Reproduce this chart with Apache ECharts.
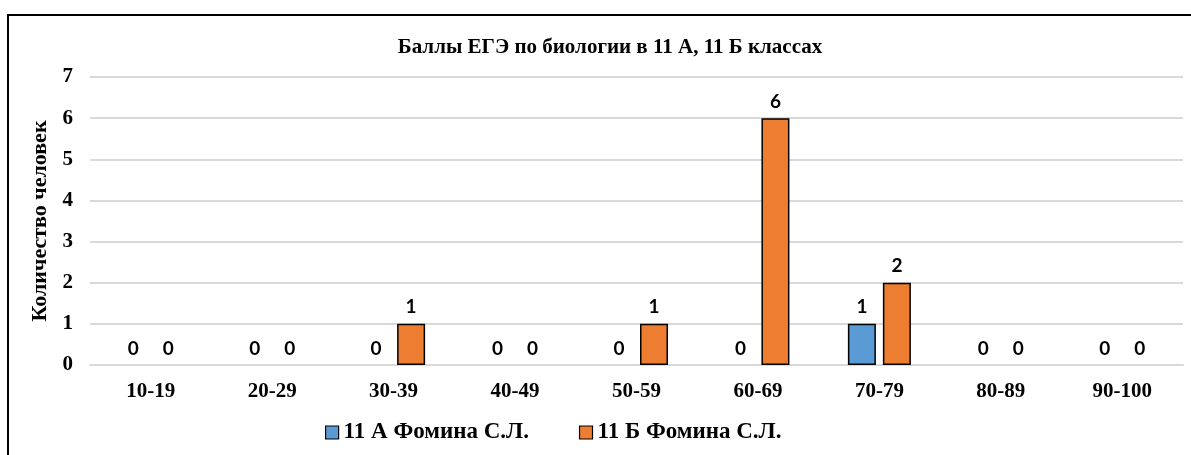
<!DOCTYPE html>
<html>
<head>
<meta charset="utf-8">
<script src="https://cdn.jsdelivr.net/npm/echarts@6/dist/echarts.min.js"></script>
<style>
  html, body { margin: 0; padding: 0; background: #fff; }
  #chart { width: 1191px; height: 455px; }
</style>
</head>
<body>
<div id="chart"></div>
<script>
const categories = ['10-19', '20-29', '30-39', '40-49', '50-59', '60-69', '70-79', '80-89', '90-100']
const seriesNames = ['11 А Фомина С.Л.', '11 Б Фомина С.Л.']
const classA = [0, 0, 0, 0, 0, 0, 1, 0, 0]
const classB = [0, 0, 1, 0, 1, 6, 2, 0, 0]
const yTicks = { min: 0, max: 7, interval: 1 }

const serif = '"Liberation Serif", "Times New Roman", serif'
const labelFont = 'Lato, "Noto Sans", sans-serif'

const chart = echarts.init(document.getElementById('chart'))

function barSeries(name, data, color) {
  return {
    name: name,
    type: 'bar',
    // zero bars get no outline, so only the label shows
    data: data.map(v => (v === 0 ? { value: v, itemStyle: { borderWidth: 0 } } : v)),
    barWidth: 28,
    barGap: '25%',
    itemStyle: {
      color: color,
      borderColor: '#000',
      borderWidth: 1.5
    },
    label: {
      show: true,
      position: 'top',
      distance: 7,
      color: '#000',
      fontFamily: labelFont,
      fontWeight: 'bold',
      fontSize: 19
    }
  }
}

chart.setOption({
  animation: false,
  title: {
    text: 'Баллы ЕГЭ по биологии в 11 А, 11 Б классах',
    left: 605,
    textAlign: 'center',
    top: 32,
    textStyle: {
      color: '#000',
      fontFamily: serif,
      fontWeight: 'bold',
      fontSize: 21
    }
  },
  grid: {
    left: 90,
    right: 8,
    top: 77,
    bottom: 90
  },
  legend: {
    left: 320,
    top: 416,
    itemWidth: 13,
    itemHeight: 13,
    itemGap: 50,
    icon: 'rect',
    itemStyle: { borderColor: '#000', borderWidth: 1.2 },
    textStyle: {
      color: '#000',
      fontFamily: serif,
      fontWeight: 'bold',
      fontSize: 23
    },
    data: seriesNames
  },
  xAxis: {
    type: 'category',
    data: categories,
    axisLine: { lineStyle: { color: '#d9d9d9', width: 2 } },
    axisTick: { show: false },
    axisLabel: {
      margin: 16,
      color: '#000',
      fontFamily: serif,
      fontWeight: 'bold',
      fontSize: 21
    }
  },
  yAxis: {
    type: 'value',
    min: yTicks.min,
    max: yTicks.max,
    interval: yTicks.interval,
    name: 'Количество человек',
    nameLocation: 'middle',
    nameGap: 34,
    nameRotate: 90,
    nameTextStyle: {
      color: '#000',
      fontFamily: serif,
      fontWeight: 'bold',
      fontSize: 22
    },
    axisLine: { show: false },
    axisTick: { show: false },
    splitLine: { lineStyle: { color: '#d9d9d9', width: 2 } },
    axisLabel: {
      margin: 17,
      color: '#000',
      fontFamily: serif,
      fontWeight: 'bold',
      fontSize: 21
    }
  },
  graphic: [
    {
      type: 'polyline',
      shape: { points: [[8, 455], [8, 15], [1191, 15]] },
      style: { stroke: '#000', lineWidth: 2, fill: null }
    }
  ],
  series: [
    barSeries(seriesNames[0], classA, '#5B9BD5'),
    barSeries(seriesNames[1], classB, '#ED7D31')
  ]
})
</script>
</body>
</html>
